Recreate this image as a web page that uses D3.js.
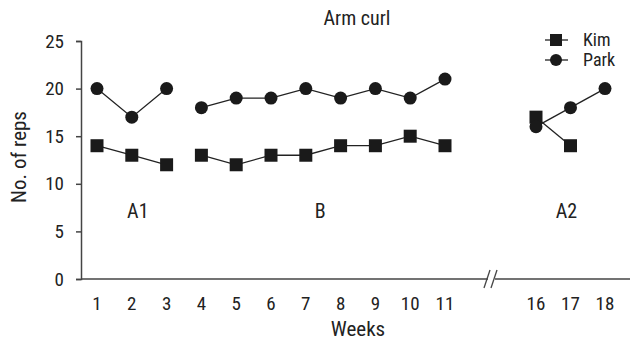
<!DOCTYPE html>
<html>
<head>
<meta charset="utf-8">
<script src="https://cdn.jsdelivr.net/npm/d3@7"></script>
<style>
body { margin: 0; background: #fff; }
text { font-family: "Roboto Condensed", "Roboto", sans-serif; fill: #222; }
</style>
</head>
<body>
<div id="graph"></div>
<script>
var w = 630
var h = 340

// data
var weeks = [1, 2, 3, 4, 5, 6, 7, 8, 9, 10, 11, 16, 17, 18]
var phases = [[1, 3], [4, 11], [16, 18]]
var phaseNames = ["A1", "B", "A2"]
var kim = [14, 13, 12, 13, 12, 13, 13, 14, 14, 15, 14, 17, 14, null]
var park = [20, 17, 20, 18, 19, 19, 20, 19, 20, 19, 21, 16, 18, 20]
var yTicks = [0, 5, 10, 15, 20, 25]

var svg = d3.select("#graph").append("svg")
    .attr("width", w)
    .attr("height", h)

// piecewise scale so the gap 11 -> 16 is squeezed
var x = d3.scaleLinear().domain([1, 11, 16, 18]).range([97, 445, 536, 605])
var y = d3.scaleLinear().domain([0, 25]).range([279, 41])

var x0 = 81, breakX = 491

// y axis
var yAxis = svg.append("g")
    .attr("transform", "translate(" + x0 + ",0)")
    .call(d3.axisLeft(y).tickValues(yTicks).tickSize(5).tickPadding(12))
yAxis.select(".domain").attr("stroke", "#444").attr("stroke-width", 1.5)
yAxis.selectAll(".tick line").attr("stroke", "#444").attr("stroke-width", 1.5)
yAxis.selectAll("text").attr("font-size", 19).attr("fill", "#222")
    .attr("font-family", "Roboto Condensed, Roboto, sans-serif")

// x axis, drawn in two pieces with a break
svg.append("line").attr("x1", x0).attr("x2", breakX - 3)
    .attr("y1", y(0)).attr("y2", y(0)).attr("stroke", "#444").attr("stroke-width", 1.5)
svg.append("line").attr("x1", breakX + 4).attr("x2", w)
    .attr("y1", y(0)).attr("y2", y(0)).attr("stroke", "#444").attr("stroke-width", 1.5)
svg.selectAll(".brk").data([-4, 3]).enter().append("line")
    .attr("x1", function (d) { return breakX + d - 3 })
    .attr("x2", function (d) { return breakX + d + 3 })
    .attr("y1", y(0) + 9).attr("y2", y(0) - 9)
    .attr("stroke", "#444").attr("stroke-width", 1.3)

svg.selectAll(".xlab").data(weeks).enter().append("text")
    .attr("x", function (d) { return x(d) })
    .attr("y", 310)
    .attr("text-anchor", "middle")
    .attr("font-size", 19)
    .text(function (d) { return d })

svg.append("text").attr("x", 358).attr("y", 336).attr("text-anchor", "middle")
    .attr("font-size", 21).text("Weeks")

svg.append("text")
    .attr("transform", "translate(26,157) rotate(-90)")
    .attr("text-anchor", "middle")
    .attr("font-size", 21)
    .text("No. of reps")

svg.append("text").attr("x", 357).attr("y", 25).attr("text-anchor", "middle")
    .attr("font-size", 20).text("Arm curl")

// phase labels
svg.selectAll(".phase").data(phases).enter().append("text")
    .attr("x", function (d, i) { return i == 2 ? x(17) - 4 : x((d[0] + d[1]) / 2) + (i == 0 ? 6 : -3) })
    .attr("y", 218)
    .attr("text-anchor", "middle")
    .attr("font-size", 20)
    .text(function (d, i) { return phaseNames[i] })

// series lines, broken per phase
var line = d3.line()
    .x(function (d) { return x(d.w) })
    .y(function (d) { return y(d.v) })

function seriesPts(vals) {
    return weeks.map(function (wk, i) { return { w: wk, v: vals[i] } })
}

function drawSeries(vals, shape) {
    var pts = seriesPts(vals)
    phases.forEach(function (p) {
        var seg = pts.filter(function (d) { return d.w >= p[0] && d.w <= p[1] && d.v != null })
        svg.append("path").datum(seg)
            .attr("d", line)
            .attr("fill", "none")
            .attr("stroke", "#222")
            .attr("stroke-width", 1.3)
    })
    var valid = pts.filter(function (d) { return d.v != null })
    if (shape == "square") {
        svg.selectAll(".sq").data(valid).enter().append("rect")
            .attr("x", function (d) { return x(d.w) - 6.5 })
            .attr("y", function (d) { return y(d.v) - 6.5 })
            .attr("width", 13).attr("height", 13)
            .attr("fill", "#1a1a1a")
    } else {
        svg.selectAll(".ci").data(valid).enter().append("circle")
            .attr("cx", function (d) { return x(d.w) })
            .attr("cy", function (d) { return y(d.v) })
            .attr("r", 6.5)
            .attr("fill", "#1a1a1a")
    }
}

drawSeries(kim, "square")
drawSeries(park, "circle")

// legend
var leg = svg.append("g").attr("transform", "translate(545,40)")
leg.append("line").attr("x1", 0).attr("x2", 23).attr("y1", 0).attr("y2", 0).attr("stroke", "#222").attr("stroke-width", 1.3)
leg.append("rect").attr("x", 5).attr("y", -6).attr("width", 12).attr("height", 12).attr("fill", "#1a1a1a")
leg.append("text").attr("x", 38).attr("y", 6).attr("font-size", 18).text("Kim")
leg.append("line").attr("x1", 0).attr("x2", 23).attr("y1", 20).attr("y2", 20).attr("stroke", "#222").attr("stroke-width", 1.3)
leg.append("circle").attr("cx", 11).attr("cy", 20).attr("r", 6).attr("fill", "#1a1a1a")
leg.append("text").attr("x", 38).attr("y", 26).attr("font-size", 18).text("Park")
</script>
</body>
</html>
